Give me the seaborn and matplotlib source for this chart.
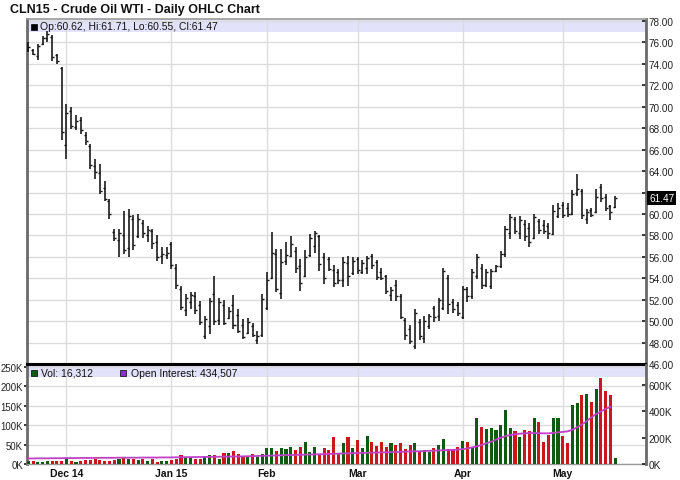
import numpy as np
import pandas as pd
import matplotlib
matplotlib.use("Agg")
import matplotlib.pyplot as plt
import matplotlib.transforms as mtransforms
from matplotlib.patches import Rectangle
import seaborn as sns

# ---------------- data ----------------
holidays = ["2014-11-27", "2014-12-25", "2015-01-01", "2015-01-19", "2015-02-16", "2015-04-03"]
dates = pd.bdate_range("2014-11-18", "2015-05-18", freq="C", holidays=holidays)

opens = [75.3, 75.3, 74.7, 75.9, 76.4, 76.5, 74.8, 73.6, 66.4, 69.6,
         68.1, 68.8, 67.4, 66.3, 64.5, 63.8, 62.4, 61.2, 58.3, 57.6,
         58.0, 56.8, 59.5, 57.9, 59.2, 58.0, 58.4, 57.4, 56.1, 56.2,
         57.2, 55.0, 53.0, 51.0, 51.8, 52.3, 51.5, 48.6, 49.5, 52.5,
         50.1, 51.5, 50.3, 51.5, 50.6, 49.6, 48.9, 49.5, 48.2, 48.7,
         51.2, 54.0, 56.3, 52.6, 55.6, 56.1, 56.5, 55.1, 54.2, 56.2,
         57.0, 57.9, 56.0, 55.8, 54.8, 54.6, 53.8, 55.4, 54.5, 55.8,
         54.6, 55.0, 56.1, 55.5, 54.6, 54.2, 52.4, 53.4, 52.3, 50.1,
         49.3, 47.7, 49.9, 48.4, 49.5, 51.2, 50.5, 51.2, 54.0, 51.8,
         51.5, 50.4, 53.0, 52.3, 54.2, 55.0, 53.4, 53.3, 54.7, 55.1,
         56.3, 58.2, 59.5, 58.2, 59.1, 58.7, 57.8, 59.3, 59.0, 58.9,
         58.1, 59.8, 60.8, 60.6, 60.0, 62.0, 62.1, 59.5, 60.4, 60.2,
         62.5, 61.6, 60.7, 60.62]
highs = [76.0, 75.4, 75.9, 76.6, 77.1, 76.7, 74.9, 73.7, 70.3, 70.0,
         69.2, 69.0, 67.6, 66.5, 65.1, 64.7, 63.1, 61.4, 58.6, 58.6,
         60.3, 60.5, 59.9, 60.0, 59.4, 58.9, 58.6, 58.0, 56.9, 56.9,
         57.4, 55.3, 53.3, 52.5, 52.7, 52.7, 51.9, 50.5, 52.2, 54.2,
         52.2, 52.0, 51.3, 52.4, 51.1, 50.2, 50.3, 49.8, 49.1, 52.5,
         54.6, 58.3, 56.7, 56.7, 57.4, 57.9, 56.9, 55.8, 56.6, 58.1,
         58.4, 58.0, 56.4, 56.0, 55.2, 54.9, 56.0, 56.1, 56.0, 56.0,
         55.7, 56.1, 56.3, 55.7, 55.0, 54.3, 53.2, 53.8, 52.5, 50.3,
         49.6, 51.1, 50.2, 50.5, 50.7, 51.4, 52.2, 55.0, 54.3, 52.1,
         51.8, 53.3, 53.2, 54.9, 56.3, 55.3, 54.9, 54.9, 55.2, 56.5,
         58.9, 60.0, 59.7, 59.8, 59.4, 59.2, 60.0, 59.5, 59.4, 59.2,
         60.8, 61.0, 61.1, 61.0, 62.2, 63.7, 62.3, 60.5, 60.6, 62.3,
         62.8, 61.9, 60.8, 61.71]
lows = [75.1, 74.8, 74.4, 75.8, 76.0, 74.3, 74.0, 66.9, 65.1, 67.9,
        67.8, 67.5, 66.4, 64.2, 63.3, 61.9, 61.2, 59.5, 57.5, 56.0,
        56.3, 56.0, 56.6, 57.8, 57.8, 57.4, 56.7, 55.6, 55.3, 55.8,
        54.9, 53.0, 51.0, 50.5, 51.1, 50.7, 49.6, 48.3, 48.8, 49.6,
        49.6, 49.6, 50.2, 49.3, 48.9, 48.3, 48.8, 48.5, 47.9, 48.5,
        51.0, 53.9, 52.7, 52.1, 55.2, 56.0, 54.5, 52.8, 54.1, 56.0,
        56.4, 54.7, 53.5, 54.7, 53.2, 53.5, 53.2, 53.3, 54.3, 54.4,
        54.4, 54.4, 54.9, 53.8, 53.8, 52.5, 51.9, 51.9, 50.2, 48.2,
        47.9, 47.4, 48.2, 48.0, 49.3, 49.9, 50.0, 51.0, 50.7, 50.8,
        50.5, 50.2, 51.8, 52.1, 53.9, 53.0, 53.2, 53.0, 54.6, 55.0,
        56.0, 57.7, 58.1, 57.7, 57.5, 56.9, 57.7, 58.1, 58.1, 57.7,
        58.0, 59.6, 59.6, 59.7, 59.9, 61.7, 59.5, 59.1, 59.7, 60.1,
        61.1, 60.3, 59.4, 60.55]
closes = [75.6, 74.9, 75.7, 76.4, 76.8, 74.6, 74.3, 67.6, 69.4, 68.2,
          68.7, 67.8, 66.8, 64.6, 63.9, 62.1, 61.4, 60.0, 57.8, 58.2,
          56.6, 59.8, 57.1, 59.5, 58.2, 58.5, 57.3, 56.0, 56.3, 56.4,
          55.2, 53.4, 51.3, 52.2, 52.4, 51.0, 49.9, 50.2, 51.9, 50.0,
          51.8, 49.8, 50.9, 49.6, 49.1, 48.5, 49.9, 48.7, 48.6, 52.1,
          53.8, 56.4, 53.0, 55.5, 56.2, 57.2, 55.0, 53.6, 56.0, 57.8,
          58.2, 55.3, 54.0, 54.9, 53.6, 53.8, 55.5, 54.2, 55.6, 54.8,
          55.4, 55.9, 55.2, 54.1, 54.0, 52.8, 52.9, 52.3, 50.4, 48.7,
          48.1, 50.8, 48.6, 50.0, 50.5, 50.4, 52.0, 54.7, 51.6, 51.1,
          50.8, 53.0, 52.3, 54.6, 56.0, 53.4, 54.6, 54.7, 55.1, 56.3,
          58.6, 59.7, 58.4, 59.4, 57.9, 57.4, 59.7, 58.5, 58.4, 58.2,
          60.3, 60.6, 59.9, 60.0, 61.9, 62.3, 59.9, 60.2, 59.9, 61.6,
          61.5, 60.6, 60.2, 61.47]
volume_k = [8, 7, 6, 6, 7, 7, 8, 9, 12, 8,
            6, 8, 10, 11, 12, 11, 9, 9, 10, 14,
            15, 12, 13, 11, 14, 8, 12, 6, 7, 9,
            11, 12, 22, 15, 15, 14, 14, 20, 22, 22,
            13, 28, 28, 33, 27, 20, 18, 26, 17, 26,
            41, 41, 33, 41, 39, 45, 37, 45, 56, 30,
            45, 26, 41, 37, 69, 28, 54, 69, 41, 63,
            40, 71, 58, 47, 56, 44, 54, 48, 54, 39,
            48, 54, 33, 37, 31, 41, 50, 65, 39, 37,
            45, 60, 56, 43, 119, 95, 91, 93, 88, 101,
            140, 93, 84, 69, 88, 86, 119, 108, 56, 76,
            119, 119, 73, 54, 153, 157, 177, 180, 160, 194,
            222, 189, 177, 16.312]
open_interest_k = [42, 42, 43, 43, 43, 44, 44, 44, 45, 45,
                   45, 46, 46, 46, 46, 47, 47, 47, 47, 48,
                   48, 48, 48, 48, 49, 49, 49, 49, 50, 50,
                   50, 51, 51, 52, 52, 53, 53, 54, 54, 55,
                   55, 56, 56, 57, 57, 58, 59, 60, 61, 62,
                   63, 64, 65, 66, 67, 68, 69, 70, 71, 72,
                   73, 74, 75, 76, 78, 79, 80, 81, 82, 83,
                   84, 85, 86, 87, 88, 89, 90, 91, 92, 93,
                   95, 96, 97, 98, 100, 101, 103, 104, 106, 107,
                   109, 113, 118, 126, 134, 145, 158, 169, 185, 200,
                   212, 220, 226, 230, 233, 235, 235, 234, 233, 233,
                   236, 240, 244, 248, 260, 279, 300, 325, 355, 380,
                   400, 418, 434.507]
month_labels = ["Dec 14", "Jan 15", "Feb", "Mar", "Apr", "May"]
price_ticks = [46, 48, 50, 52, 54, 56, 58, 60, 62, 64, 66, 68, 70, 72, 74, 76, 78]
vol_ticks = [0, 50, 100, 150, 200, 250]
oi_ticks = [0, 200, 400, 600]

# ---------------- frames ----------------
n = len(dates)
df = pd.DataFrame({"date": dates, "open": opens, "high": highs, "low": lows,
                   "close": closes, "volume": volume_k})
df["idx"] = np.arange(n)
df["dir"] = np.where(df["close"] >= df["open"], "up", "down")
oi_df = pd.DataFrame({"idx": np.arange(len(open_interest_k)), "oi": open_interest_k})
month_idx = [int(np.argmax((dates.month == d.month) & (dates.year == d.year)))
             for d in pd.date_range("2014-12-01", "2015-05-01", freq="MS")]

# ---------------- style ----------------
sns.set_theme(style="white")
plt.rcParams["font.family"] = ["Liberation Sans", "DejaVu Sans"]

W, H = 680, 481
fig = plt.figure(figsize=(W / 100, H / 100), dpi=100)
fig.patch.set_facecolor("white")


def fx(px):
    return px / W


def fy(py):
    return 1 - py / H


L_PX, R_PX = 27, 646
P_TOP, P_BOT = 20, 365
V_TOP, V_BOT = 366, 465
axp = fig.add_axes([fx(L_PX), fy(P_BOT), fx(R_PX - L_PX), (P_BOT - P_TOP) / H])
axv = fig.add_axes([fx(L_PX), fy(V_BOT), fx(R_PX - L_PX), (V_BOT - V_TOP) / H])

step = 4.772
x_lo = -(28.3 - L_PX) / step
x_hi = (R_PX - 28.3) / step
grid_c = "#dcdcdc"
lab_fs = 7.2

# ---------------- price panel ----------------
axp.set_xlim(x_lo, x_hi)
axp.set_ylim(46, 78.19)
axp.set_axisbelow(True)
axp.axhspan(76.95, 78.19, color="#e2e2fa", zorder=0, lw=0)
axp.vlines(df["idx"], df["low"], df["high"], color="#111111", lw=1.15, zorder=3)
axp.hlines(df["open"], df["idx"] - 0.42, df["idx"], color="#111111", lw=1.0, zorder=3)
axp.hlines(df["close"], df["idx"], df["idx"] + 0.42, color="#111111", lw=1.0, zorder=3)

axp.set_xticks(month_idx)
axp.set_yticks(price_ticks)
axp.yaxis.tick_right()
hidden_tick = min(price_ticks, key=lambda t: abs(t - closes[-1]))
axp.set_yticklabels(["" if t == hidden_tick else f"{t:.2f}" for t in price_ticks],
                    fontsize=lab_fs)
axp.tick_params(axis="y", direction="in", length=3, pad=2, colors="#222222", right=True, left=False)
axp.tick_params(axis="x", length=0, labelbottom=False)
axp.grid(True, color=grid_c, lw=1)
for s in ["left", "right", "top"]:
    axp.spines[s].set_color("#6a6a6a")
axp.spines["left"].set_linewidth(2)
axp.spines["right"].set_linewidth(2)
axp.spines["top"].set_linewidth(1.2)
axp.spines["top"].set_color("#9a9a9a")
axp.spines["bottom"].set_color("black")
axp.spines["bottom"].set_linewidth(1.5)

# last price box
tr = mtransforms.blended_transform_factory(axp.transAxes, axp.transData)
axp.text(1.0 + 3 / (R_PX - L_PX), closes[-1], f"{closes[-1]:.2f}", transform=tr,
         ha="left", va="center", color="white", fontsize=lab_fs, clip_on=False, zorder=10,
         bbox=dict(facecolor="black", edgecolor="none", pad=1.6))

# price legend band
fig.patches.append(Rectangle((fx(31), fy(31)), fx(6), 6 / H, transform=fig.transFigure,
                             facecolor="black", edgecolor="black", lw=0.5))
fig.text(fx(40), fy(27.5),
         f"Op:{opens[-1]:.2f}, Hi:{highs[-1]:.2f}, Lo:{lows[-1]:.2f}, Cl:{closes[-1]:.2f}",
         fontsize=7.5, va="center", ha="left", color="#111111")

# title
fig.text(fx(10), fy(10.5), "CLN15 - Crude Oil WTI - Daily OHLC Chart",
         fontsize=9, fontweight="bold", va="center", ha="left", color="#111111")

# ---------------- volume panel ----------------
sns.barplot(data=df, x="idx", y="volume", hue="dir", palette={"up": "#0e5a12", "down": "#c8181c"},
            dodge=False, width=0.65, saturation=1, legend=False, native_scale=True,
            ax=axv, zorder=3, linewidth=0)
axv.set_xlim(x_lo, x_hi)
axv.set_ylim(0, 255.3)
axv.set_axisbelow(True)
axv.axhspan(224, 255.3, color="#e2e2fa", zorder=0, lw=0)
axv.set_yticks(vol_ticks)
axv.set_yticklabels([f"{t}K" for t in vol_ticks], fontsize=6.9)
axv.tick_params(axis="y", direction="out", length=2, pad=0.8, colors="#222222", left=True)
axv.set_xticks(month_idx)
axv.set_xticklabels(month_labels, fontsize=7.5, fontweight="bold")
axv.tick_params(axis="x", length=0, pad=3, colors="#111111")
axv.grid(True, color=grid_c, lw=1)
axv.set_xlabel("")
axv.set_ylabel("")
axv.spines["left"].set_color("#6a6a6a")
axv.spines["left"].set_linewidth(2)
axv.spines["top"].set_color("black")
axv.spines["top"].set_linewidth(1.5)
axv.spines["bottom"].set_color("#9a9a9a")
axv.spines["bottom"].set_linewidth(1)
axv.spines["right"].set_visible(False)

axo = axv.twinx()
sns.lineplot(data=oi_df, x="idx", y="oi", ax=axo, color="#c040c8", lw=1.3, zorder=4)
axo.set_xlim(x_lo, x_hi)
axo.set_ylim(0, 752)
axo.set_yticks(oi_ticks)
axo.set_yticklabels([f"{t}K" for t in oi_ticks], fontsize=lab_fs)
axo.tick_params(axis="y", direction="in", length=3, pad=2, colors="#222222", right=True)
axo.set_ylabel("")
axo.set_xlabel("")
axo.grid(False)
for s in ["left", "top", "bottom"]:
    axo.spines[s].set_visible(False)
axo.spines["right"].set_color("#6a6a6a")
axo.spines["right"].set_linewidth(2)

# volume legend
fig.patches.append(Rectangle((fx(31), fy(377)), fx(6), 6 / H, transform=fig.transFigure,
                             facecolor="#0e5a12", edgecolor="black", lw=0.5))
fig.text(fx(41), fy(374), f"Vol: {int(round(volume_k[-1] * 1000)):,}",
         fontsize=7.5, va="center", ha="left", color="#111111")
fig.patches.append(Rectangle((fx(120), fy(377)), fx(6), 6 / H, transform=fig.transFigure,
                             facecolor="#8a2be2", edgecolor="black", lw=0.5))
fig.text(fx(131), fy(374), f"Open Interest: {int(round(open_interest_k[-1] * 1000)):,}",
         fontsize=7.5, va="center", ha="left", color="#111111")

fig.savefig("out.png", dpi=100)
